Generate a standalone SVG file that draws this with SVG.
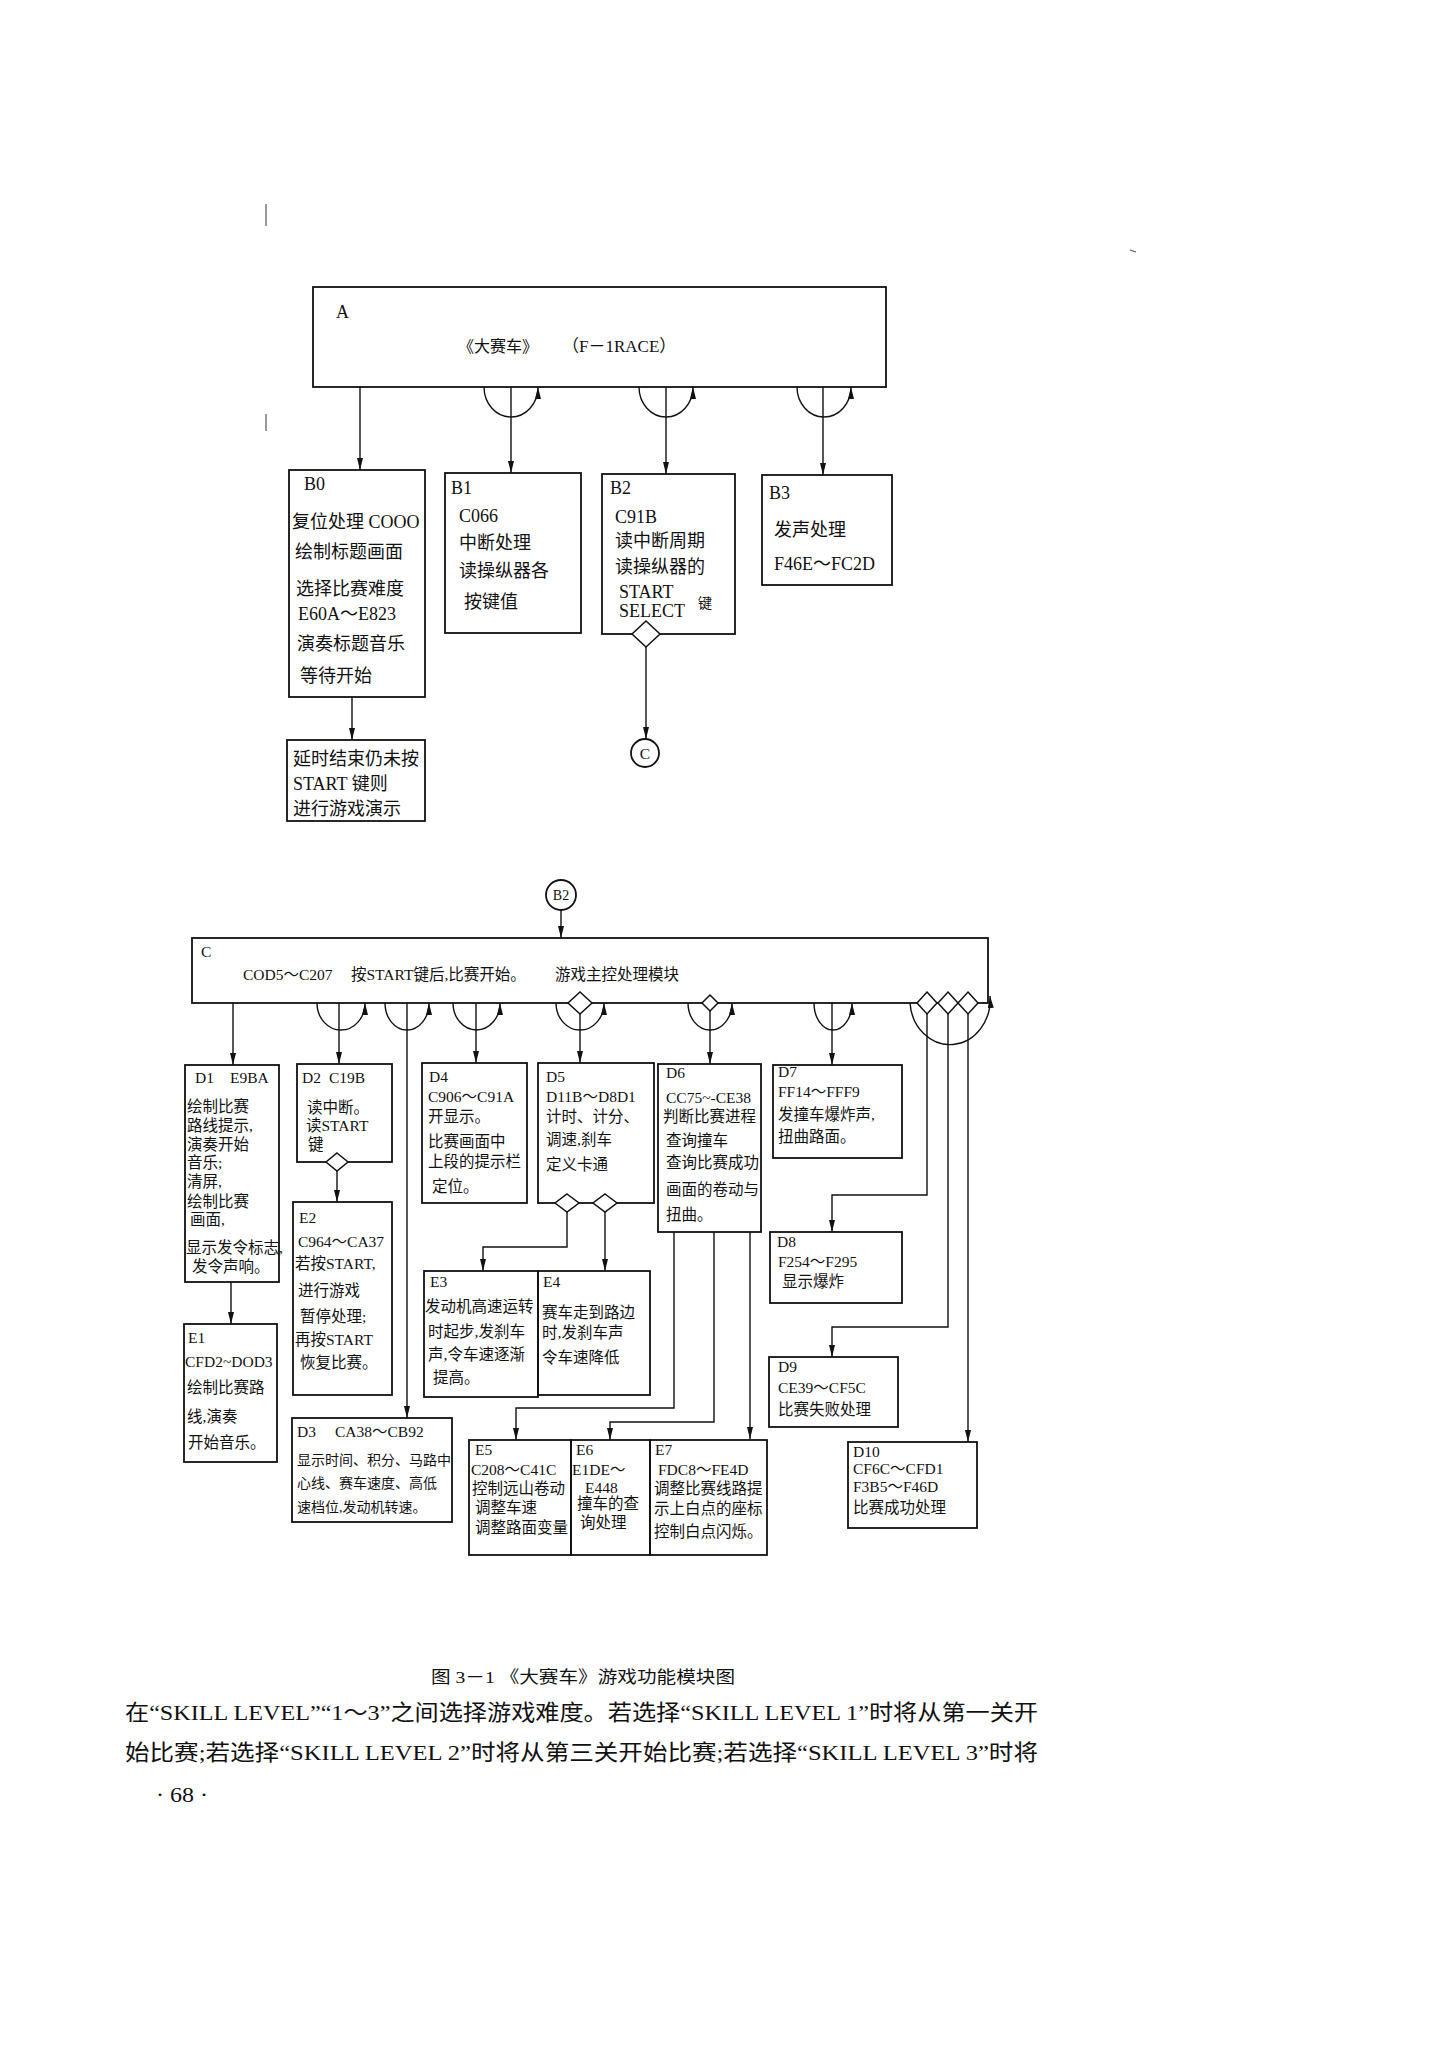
<svg xmlns="http://www.w3.org/2000/svg" width="1447" height="2048" viewBox="0 0 1447 2048">
<defs>
<style>
.box{fill:none;stroke:#111;stroke-width:1.8}
.dia{fill:#fff;stroke:#111;stroke-width:1.5}
.ln{fill:none;stroke:#111;stroke-width:1.4}
.ar{marker-end:url(#ah)}
text{font-family:"Liberation Serif","Noto Sans CJK SC",serif;fill:#111}
.t18{font-size:18px}
.t16{font-size:15.5px}
.t14{font-size:14px}
.mark{stroke:#555;stroke-width:1.2}
</style>
<marker id="ah" viewBox="0 0 12 6" refX="12" refY="3" markerWidth="12" markerHeight="6" markerUnits="userSpaceOnUse" orient="auto">
<path d="M0,0 L12,3 L0,6 z" fill="#111"/>
</marker>
</defs>
<rect width="1447" height="2048" fill="#fff"/>

<g id="marks">
<line class="mark" x1="266" y1="204" x2="266" y2="226"/>
<line class="mark" x1="266" y1="414" x2="266" y2="431"/>
<line class="mark" x1="1130" y1="250" x2="1136" y2="252"/>
</g>

<g id="A">
<rect class="box" x="313" y="287" width="573" height="100"/>
<text class="t18" x="336" y="318">A</text>
<text x="458" y="352" font-size="16">《大赛车》</text>
<text x="562" y="352" font-size="17">（F－1RACE）</text>
</g>

<g id="B0">
<rect class="box" x="289" y="470" width="136" height="227"/>
<text class="t18" x="304" y="490">B0</text>
<text class="t18" x="292" y="528">复位处理 COOO</text>
<text class="t18" x="295" y="558">绘制标题画面</text>
<text class="t18" x="296" y="595">选择比赛难度</text>
<text class="t18" x="298" y="620">E60A～E823</text>
<text class="t18" x="297" y="650">演奏标题音乐</text>
<text class="t18" x="300" y="682">等待开始</text>
</g>

<g id="B0a">
<rect class="box" x="287" y="740" width="138" height="81"/>
<text class="t18" x="293" y="765">延时结束仍未按</text>
<text class="t18" x="293" y="790">START 键则</text>
<text class="t18" x="293" y="815">进行游戏演示</text>
</g>

<g id="B1">
<rect class="box" x="445" y="473" width="136" height="160"/>
<text class="t18" x="451" y="494">B1</text>
<text class="t18" x="459" y="522">C066</text>
<text class="t18" x="459" y="549">中断处理</text>
<text class="t18" x="459" y="577">读操纵器各</text>
<text class="t18" x="464" y="608">按键值</text>
</g>

<g id="B2">
<rect class="box" x="602" y="474" width="133" height="160"/>
<text class="t18" x="610" y="494">B2</text>
<text class="t18" x="615" y="523">C91B</text>
<text class="t18" x="615" y="547">读中断周期</text>
<text class="t18" x="615" y="573">读操纵器的</text>
<text class="t18" x="619" y="598">START</text>
<text class="t18" x="619" y="617">SELECT</text>
<text class="t14" x="698" y="608">键</text>
</g>

<g id="B3">
<rect class="box" x="762" y="475" width="130" height="110"/>
<text class="t18" x="769" y="499">B3</text>
<text class="t18" x="774" y="536">发声处理</text>
<text class="t18" x="774" y="570">F46E～FC2D</text>
</g>

<g id="connC">
<circle class="box" cx="645" cy="753" r="14"/>
<text class="t16" x="645" y="759" text-anchor="middle">C</text>
</g>

<g id="refB2">
<circle class="box" cx="561" cy="895" r="15"/>
<text class="t14" x="561" y="900" text-anchor="middle">B2</text>
</g>

<g id="C">
<rect class="box" x="192" y="938" width="796" height="65"/>
<text class="t16" x="201" y="957">C</text>
<text class="t16" x="243" y="980">COD5～C207</text>
<text class="t16" x="351" y="980">按START键后,比赛开始。</text>
<text class="t16" x="555" y="980">游戏主控处理模块</text>
</g>

<g id="D1">
<rect class="box" x="185" y="1065" width="94" height="217"/>
<text class="t16" x="195" y="1083">D1</text>
<text class="t16" x="230" y="1083">E9BA</text>
<text class="t16" x="187" y="1112">绘制比赛</text>
<text class="t16" x="187" y="1131">路线提示,</text>
<text class="t16" x="187" y="1150">演奏开始</text>
<text class="t16" x="187" y="1168">音乐;</text>
<text class="t16" x="187" y="1187">清屏,</text>
<text class="t16" x="187" y="1207">绘制比赛</text>
<text class="t16" x="190" y="1225">画面,</text>
<text class="t16" x="186" y="1253">显示发令标志,</text>
<text class="t16" x="192" y="1272">发令声响。</text>
</g>

<g id="E1">
<rect class="box" x="184" y="1324" width="93" height="138"/>
<text class="t16" x="188" y="1343">E1</text>
<text class="t16" x="185" y="1367">CFD2~DOD3</text>
<text class="t16" x="187" y="1393">绘制比赛路</text>
<text class="t16" x="187" y="1422">线,演奏</text>
<text class="t16" x="188" y="1448">开始音乐。</text>
</g>

<g id="D2">
<rect class="box" x="297" y="1064" width="95" height="98"/>
<text class="t16" x="302" y="1083">D2</text>
<text class="t16" x="329" y="1083">C19B</text>
<text class="t16" x="307" y="1113">读中断。</text>
<text class="t16" x="306" y="1131">读START</text>
<text class="t16" x="308" y="1150">键</text>
</g>

<g id="E2">
<rect class="box" x="293" y="1202" width="99" height="193"/>
<text class="t16" x="299" y="1223">E2</text>
<text class="t16" x="298" y="1247">C964～CA37</text>
<text class="t16" x="295" y="1269">若按START,</text>
<text class="t16" x="298" y="1296">进行游戏</text>
<text class="t16" x="300" y="1322">暂停处理;</text>
<text class="t16" x="295" y="1345">再按START</text>
<text class="t16" x="300" y="1368">恢复比赛。</text>
</g>

<g id="D3">
<rect class="box" x="292" y="1418" width="160" height="104"/>
<text class="t16" x="297" y="1437">D3</text>
<text class="t16" x="335" y="1437">CA38～CB92</text>
<text class="t14" x="297" y="1465">显示时间、积分、马路中</text>
<text class="t14" x="297" y="1488">心线、赛车速度、高低</text>
<text class="t14" x="297" y="1512">速档位,发动机转速。</text>
</g>

<g id="D4">
<rect class="box" x="422" y="1063" width="105" height="140"/>
<text class="t16" x="429" y="1082">D4</text>
<text class="t16" x="428" y="1102">C906～C91A</text>
<text class="t16" x="428" y="1122">开显示。</text>
<text class="t16" x="428" y="1147">比赛画面中</text>
<text class="t16" x="428" y="1167">上段的提示栏</text>
<text class="t16" x="432" y="1192">定位。</text>
</g>

<g id="D5">
<rect class="box" x="538" y="1063" width="116" height="140"/>
<text class="t16" x="546" y="1082">D5</text>
<text class="t16" x="546" y="1102">D11B～D8D1</text>
<text class="t16" x="546" y="1122">计时、计分、</text>
<text class="t16" x="546" y="1145">调速,刹车</text>
<text class="t16" x="546" y="1170">定义卡通</text>
</g>

<g id="E3">
<rect class="box" x="424" y="1271" width="114" height="126"/>
<text class="t16" x="430" y="1287">E3</text>
<text class="t16" x="425" y="1312">发动机高速运转</text>
<text class="t16" x="428" y="1337">时起步,发刹车</text>
<text class="t16" x="428" y="1360">声,令车速逐渐</text>
<text class="t16" x="433" y="1383">提高。</text>
</g>

<g id="E4">
<rect class="box" x="538" y="1271" width="112" height="124"/>
<text class="t16" x="543" y="1287">E4</text>
<text class="t16" x="542" y="1318">赛车走到路边</text>
<text class="t16" x="542" y="1338">时,发刹车声</text>
<text class="t16" x="542" y="1363">令车速降低</text>
</g>

<g id="D6">
<rect class="box" x="658" y="1064" width="103" height="168"/>
<text class="t16" x="666" y="1078">D6</text>
<text class="t16" x="666" y="1103">CC75~-CE38</text>
<text class="t16" x="663" y="1122">判断比赛进程</text>
<text class="t16" x="666" y="1146">查询撞车</text>
<text class="t16" x="666" y="1168">查询比赛成功</text>
<text class="t16" x="666" y="1195">画面的卷动与</text>
<text class="t16" x="666" y="1220">扭曲。</text>
</g>

<g id="D7">
<rect class="box" x="773" y="1065" width="129" height="93"/>
<text class="t16" x="778" y="1077">D7</text>
<text class="t16" x="778" y="1097">FF14～FFF9</text>
<text class="t16" x="778" y="1120">发撞车爆炸声,</text>
<text class="t16" x="778" y="1142">扭曲路面。</text>
</g>

<g id="D8">
<rect class="box" x="770" y="1232" width="132" height="71"/>
<text class="t16" x="777" y="1247">D8</text>
<text class="t16" x="778" y="1267">F254～F295</text>
<text class="t16" x="782" y="1287">显示爆炸</text>
</g>

<g id="D9">
<rect class="box" x="769" y="1357" width="129" height="70"/>
<text class="t16" x="778" y="1372">D9</text>
<text class="t16" x="778" y="1393">CE39～CF5C</text>
<text class="t16" x="778" y="1415">比赛失败处理</text>
</g>

<g id="D10">
<rect class="box" x="848" y="1442" width="129" height="86"/>
<text class="t16" x="853" y="1457">D10</text>
<text class="t16" x="853" y="1474">CF6C～CFD1</text>
<text class="t16" x="853" y="1492">F3B5～F46D</text>
<text class="t16" x="853" y="1513">比赛成功处理</text>
</g>

<g id="E5">
<rect class="box" x="469" y="1440" width="102" height="115"/>
<text class="t16" x="475" y="1455">E5</text>
<text class="t16" x="471" y="1475">C208～C41C</text>
<text class="t16" x="472" y="1494">控制远山卷动</text>
<text class="t16" x="475" y="1513">调整车速</text>
<text class="t16" x="475" y="1533">调整路面变量</text>
</g>

<g id="E6">
<rect class="box" x="571" y="1440" width="79" height="115"/>
<text class="t16" x="576" y="1455">E6</text>
<text class="t16" x="572" y="1475">E1DE～</text>
<text class="t16" x="585" y="1493">E448</text>
<text class="t16" x="577" y="1509">撞车的查</text>
<text class="t16" x="580" y="1528">询处理</text>
</g>

<g id="E7">
<rect class="box" x="650" y="1440" width="117" height="115"/>
<text class="t16" x="655" y="1455">E7</text>
<text class="t16" x="658" y="1475">FDC8～FE4D</text>
<text class="t16" x="654" y="1494">调整比赛线路提</text>
<text class="t16" x="654" y="1514">示上白点的座标</text>
<text class="t16" x="654" y="1537">控制白点闪烁。</text>
</g>

<g id="connectors">
<path class="ln ar" d="M360,387 V470"/>
<path class="ln ar" d="M511,387 V473"/>
<path class="ln ar" d="M484,387 A27,30 0 0 0 538,387"/>
<path class="ln ar" d="M666,387 V474"/>
<path class="ln ar" d="M639,387 A27,30 0 0 0 693,387"/>
<path class="ln ar" d="M823,387 V475"/>
<path class="ln ar" d="M797,387 A27,30 0 0 0 851,387"/>
<path class="ln ar" d="M352,697 V740"/>
<path class="ln ar" d="M646,647 V739"/>
<polygon class="dia" points="646,621 660,634 646,647 632,634"/>
<path class="ln ar" d="M561,910 V938"/>

<path class="ln ar" d="M233,1003 V1065"/>
<path class="ln ar" d="M339,1003 V1064"/>
<path class="ln ar" d="M317,1003 A24,27 0 0 0 365,1003"/>
<path class="ln ar" d="M407,1003 V1418"/>
<path class="ln ar" d="M385,1003 A22,27 0 0 0 429,1003"/>
<path class="ln ar" d="M476,1003 V1063"/>
<path class="ln ar" d="M453,1003 A23.5,27 0 0 0 500,1003"/>
<path class="ln ar" d="M580,1014 V1063"/>
<path class="ln ar" d="M556,1003 A24,27 0 0 0 604,1003"/>
<polygon class="dia" points="580,992 592,1003 580,1014 568,1003"/>
<path class="ln ar" d="M710,1011 V1064"/>
<path class="ln ar" d="M688,1003 A22,27 0 0 0 732,1003"/>
<polygon class="dia" points="710,995 718,1003 710,1011 702,1003"/>
<path class="ln ar" d="M832,1003 V1065"/>
<path class="ln ar" d="M814,1003 A19,27 0 0 0 852,1003"/>
<path class="ln ar" d="M910,1003 A40,45 0 0 0 990,996"/>
<path class="ln ar" d="M927,1014 V1195 H832 V1232"/>
<path class="ln ar" d="M948,1014 V1327 H832 V1357"/>
<path class="ln ar" d="M968,1014 V1442"/>
<polygon class="dia" points="927,992 937,1003 927,1014 917,1003"/>
<polygon class="dia" points="948,992 958,1003 948,1014 938,1003"/>
<polygon class="dia" points="968,992 978,1003 968,1014 958,1003"/>

<path class="ln ar" d="M231,1282 V1324"/>
<path class="ln ar" d="M337,1171 V1202"/>
<polygon class="dia" points="337,1153 348,1162 337,1171 326,1162"/>
<path class="ln ar" d="M567,1212 V1247 H483 V1271"/>
<path class="ln ar" d="M605,1212 V1271"/>
<polygon class="dia" points="567,1194 579,1203 567,1212 555,1203"/>
<polygon class="dia" points="605,1194 617,1203 605,1212 593,1203"/>
<path class="ln ar" d="M674,1232 V1408 H516 V1440"/>
<path class="ln ar" d="M714,1232 V1422 H610 V1440"/>
<path class="ln ar" d="M750,1232 V1439"/>
</g>

<g id="caption">
<text x="431" y="1683" font-size="17" textLength="304" lengthAdjust="spacingAndGlyphs">图 3－1 《大赛车》游戏功能模块图</text>
<text x="125" y="1720" font-size="22" textLength="913" lengthAdjust="spacingAndGlyphs">在“SKILL LEVEL”“1～3”之间选择游戏难度。若选择“SKILL LEVEL 1”时将从第一关开</text>
<text x="125" y="1760" font-size="22" textLength="913" lengthAdjust="spacingAndGlyphs">始比赛;若选择“SKILL LEVEL 2”时将从第三关开始比赛;若选择“SKILL LEVEL 3”时将</text>
<text x="156" y="1802" font-size="20" textLength="52" lengthAdjust="spacingAndGlyphs">· 68 ·</text>
</g>
</svg>
